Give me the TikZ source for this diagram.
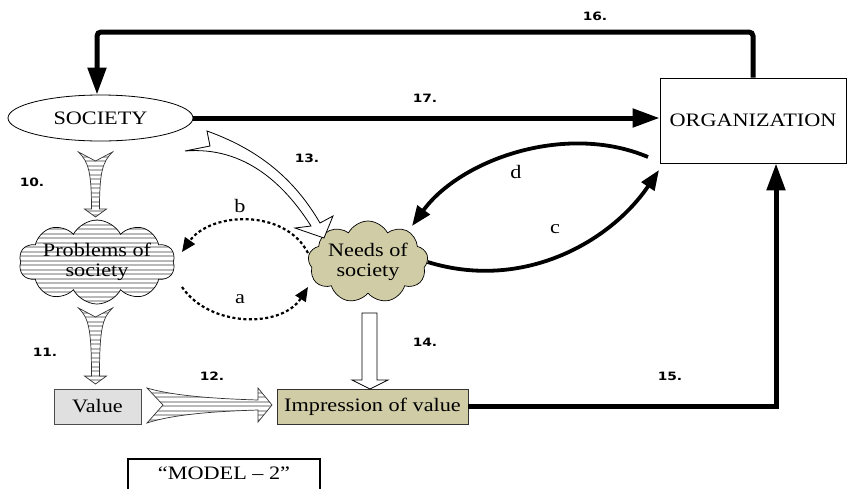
\documentclass[tikz,border=0pt]{standalone}
\usepackage{fontspec}
\setmainfont{Liberation Serif}[FakeStretch=1.17]
\newfontfamily\numfont{DejaVu Sans}[FakeStretch=1.2]
\usetikzlibrary{shapes.geometric,shapes.symbols,arrows.meta,calc}

\definecolor{needfill}{RGB}{207,204,166}
\definecolor{valfill}{RGB}{224,224,224}
\definecolor{stripecol}{RGB}{185,185,185}

\tikzset{
  txt/.style={font=\fontsize{19}{20.5}\selectfont},
  num/.style={font=\numfont\bfseries\fontsize{11.5}{12}\selectfont},
  stripes/.style={path picture={
      \foreach \k in {0,...,45}{
        \draw[stripecol, line width=2pt]
          ([yshift=-\k*4.5pt]path picture bounding box.north west) --
          ([yshift=-\k*4.5pt]path picture bounding box.north east);}}},
  fatarrow/.style={fill=white, draw=black!80, line width=0.7pt, stripes},
  boldline/.style={line width=5pt},
  bigtip/.style={-{Triangle[length=27pt,width=18pt]}},
  curvearrow/.style={line width=3.8pt, -{Triangle[length=20pt,width=15pt]}},
  dotarrow/.style={line width=2.2pt, dash pattern=on 3pt off 2.5pt,
                   -{Triangle[length=14pt,width=12pt]}},
  cloudnode/.style={cloud, cloud puff arc=125,
                    inner sep=0pt, draw, line width=0.7pt},
  cloudtext/.style={txt, align=center, inner sep=0pt},
  boxnode/.style={draw, line width=0.8pt, inner sep=0pt, txt},
  pics/vfat/.style={code={
    \path[fatarrow] (-17,0) -- (0,9) -- (17,0)
      .. controls (7,10) and (4,20) .. (4,#1-8) -- (11,#1-8) -- (0,#1)
      -- (-11,#1-8) -- (-4,#1-8) .. controls (-4,20) and (-7,10) .. (-17,0)
      -- cycle;}},
  pics/hfat/.style={code={
    \path[fatarrow] (0,-17) -- (16,0) -- (0,18)
      .. controls (30,8) and (80,6) .. (#1-14,5) -- (#1-14,17) -- (#1,0)
      -- (#1-14,-17) -- (#1-14,-5) .. controls (80,-6) and (30,-8) .. (0,-17)
      -- cycle;}}
}

\begin{document}
\begin{tikzpicture}[x=1pt,y=-1pt]
\useasboundingbox (0,0) rectangle (848,488);

% main nodes
\node[ellipse, draw, line width=0.8pt, minimum width=185pt, minimum height=46pt,
      inner sep=0pt, txt] (soc) at (100.5,118) {SOCIETY};
\node[boxnode, minimum width=186pt, minimum height=85pt] (org) at (753,120.5) {ORGANIZATION};
\node[cloudnode, cloud puffs=10, fill=white, stripes,
      minimum width=156pt, minimum height=84pt] (prob) at (97,262) {};
\node[cloudtext] (probtxt) at (prob.center) {Problems of\\society};
\node[cloudnode, cloud puffs=9, fill=needfill,
      minimum width=120pt, minimum height=82pt] (need) at (368,262) {};
\node[cloudtext] (needtxt) at (need.center) {Needs of\\society};
\node[boxnode, draw=black!70, fill=valfill, minimum width=87pt, minimum height=35pt]
      (val) at (97.5,406.5) {Value};
\node[boxnode, draw=black!80, fill=needfill, minimum width=191pt, minimum height=35pt]
      (imp) at (372.5,406.5) {Impression of value};
\node[draw, line width=1.2pt, minimum width=192pt, minimum height=40pt, inner sep=0pt]
      (model) at (224,479) {};
\node[txt] (modeltxt) at (224,473) {“MODEL – 2”};

% 16: organization back to society
\coordinate (topright) at (org.north |- 0,32);
\coordinate (topleft) at (97,32);
\draw[boldline, bigtip, rounded corners=4pt]
  (org.north) -- (topright) -- (topleft) -- (topleft |- soc.north);

% 17: society to organization
\draw[boldline, bigtip] (soc.east) -- (soc.east -| org.west);

% 15: impression of value to organization
\coordinate (up15) at ([xshift=23pt]org.south);
\draw[boldline, bigtip] (imp.east) -| (up15);

% c and d between needs and organization
\coordinate (dstart) at (648,157);
\coordinate (cend) at (659,170);
\draw[curvearrow] (dstart) .. controls (565,122) and (460,160) .. (412,226);
\draw[curvearrow] (need.east) .. controls (525,292) and (612,240) .. (cend);

% a and b between the two clouds
\coordinate (bstart) at (308,253);
\coordinate (bend) at (182,252);
\coordinate (astart) at (182,287);
\coordinate (aend) at (308,287);
\draw[dotarrow] (bstart) .. controls (285,208) and (210,212) .. (bend);
\draw[dotarrow] (astart) .. controls (210,328) and (282,328) .. (aend);

% striped block arrows 10, 11, 12
\pic at (95.5,152) {vfat=65};
\pic at (95.5,308) {vfat=76};
\pic at (147,405) {hfat=125};

% 13: curved hollow arrow from society to needs
\path[fill=white, draw=black, line width=0.8pt]
  (207,131) -- (210,146) -- (185,151)
  .. controls (245,146) and (285,185) .. (311,226)
  -- (295,228) -- (324,238) -- (333,216) -- (320,223)
  .. controls (295,180) and (260,150) .. (207,131) -- cycle;

% 14: hollow block arrow from needs to impression
\path[fill=white, draw=black, line width=0.8pt]
  (362,313) -- (377,313) -- (377,380) -- (388,380) -- (370,389)
  -- (352,380) -- (362,380) -- cycle;

% labels
\node[num] (n10) at (32,182) {10.};
\node[num] (n11) at (45,352) {11.};
\node[num] (n12) at (212,376) {12.};
\node[num] (n13) at (307,158) {13.};
\node[num] (n14) at (425,342) {14.};
\node[num] (n15) at (670,376) {15.};
\node[num] (n16) at (595,16) {16.};
\node[num] (n17) at (425,98) {17.};
\node[txt] (la) at (240,299) {a};
\node[txt] (lb) at (240,206) {b};
\node[txt] (lc) at (555,229) {c};
\node[txt] (ld) at (516,172) {d};
\end{tikzpicture}
\end{document}
